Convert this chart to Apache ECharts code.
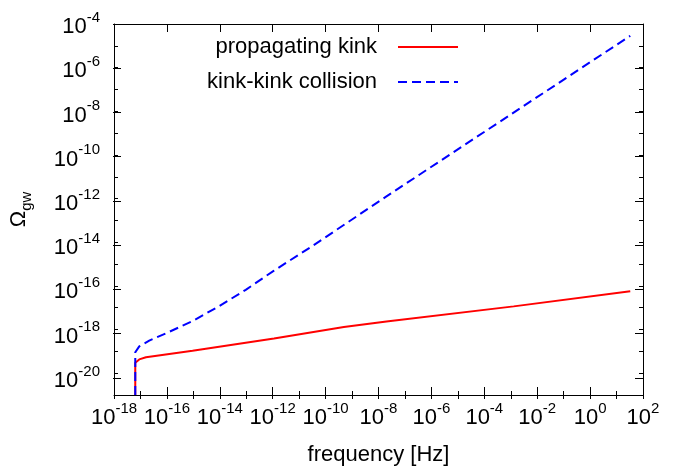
<!DOCTYPE html>
<html>
<head>
<meta charset="utf-8">
<script src="https://cdn.jsdelivr.net/npm/echarts@6/dist/echarts.min.js"></script>
<style>
html,body{margin:0;padding:0;background:#fff;}
#c{width:673px;height:471px;}
</style>
</head>
<body>
<div id="c"></div>
<script>
// Data (frequency in Hz, Omega_gw)
const kinkFreq  = [6.37e-18, 6.37e-18, 9.02e-18, 1.62e-17, 9.33e-16, 1.12e-12, 4.90e-10, 2.00e-8, 1.29e-3, 33];
const kinkOmega = [1e-21, 3.02e-20, 4.27e-20, 5.37e-20, 1.07e-19, 3.89e-19, 1.30e-18, 2.34e-18, 1.15e-17, 5.62e-17];
const collFreq  = [6.37e-18, 6.37e-18, 9.02e-18, 2.15e-17, 1.22e-16, 9.33e-16, 9.33e-15, 9.55e-14, 1.12e-12, 2.69e-11, 2.00e-8, 7.24e-3, 33];
const collOmega = [1e-21, 9.12e-20, 1.70e-19, 3.09e-19, 7.82e-19, 2.45e-18, 1.17e-17, 6.61e-17, 5.01e-16, 5.89e-15, 1.26e-12, 3.47e-8, 2.88e-5];
const seriesNames = ['propagating kink', 'kink-kink collision'];
const xTickExps = [-18, -16, -14, -12, -10, -8, -6, -4, -2, 0, 2];
const yTickExps = [-20, -18, -16, -14, -12, -10, -8, -6, -4];

const FONT = 'Liberation Sans, Arial, sans-serif';
const chart = echarts.init(document.getElementById('c'), null, {renderer: 'canvas'});

function expLabel(v) {
  const e = Math.round(Math.log10(v));
  return '{b|10}{s|' + e + '}';
}
const labelRich = {
  b: {fontSize: 22, fontFamily: FONT, color: '#000', lineHeight: 28, verticalAlign: 'bottom'},
  s: {fontSize: 15, fontFamily: FONT, color: '#000', lineHeight: 14, verticalAlign: 'top'}
};
const axLine = {show: true, onZero: false, lineStyle: {color: '#000', width: 1}};
function tick(len) { return {show: true, inside: true, length: len, lineStyle: {color: '#000', width: 1}}; }

const xMin = Math.pow(10, xTickExps[0]), xMax = Math.pow(10, xTickExps[xTickExps.length - 1]);
const yMinAll = 1e-21, yMaxAll = Math.pow(10, yTickExps[yTickExps.length - 1]);
const yMinMajor = Math.pow(10, yTickExps[0]);

const grid0 = {left: 113, right: 30, top: 24, bottom: 71};
const decade = (471 - 24 - 71) / 17;
const grid1 = {left: 113, right: 30, top: 24, bottom: 71 + decade};

const option = {
  animation: false,
  backgroundColor: '#fff',
  textStyle: {fontFamily: FONT},
  grid: [grid0, grid1],
  legend: {
    orient: 'vertical',
    align: 'right',
    right: 214,
    top: 36,
    padding: 0,
    itemWidth: 60,
    itemHeight: 14,
    itemGap: 13,
    itemStyle: {opacity: 0},
    textStyle: {fontSize: 22, fontFamily: FONT, color: '#000', lineHeight: 22, padding: [0, 16, 0, 0]},
    data: seriesNames
  },
  xAxis: [
    {gridIndex: 0, type: 'log', logBase: 10, position: 'bottom', min: xMin, max: xMax, interval: 2,
     axisLine: axLine, axisTick: tick(8), splitLine: {show: false},
     axisLabel: {formatter: expLabel, rich: labelRich, margin: 6, showMinLabel: true, showMaxLabel: true},
     name: 'frequency [Hz]', nameLocation: 'middle', nameGap: 49,
     nameTextStyle: {fontSize: 22, fontFamily: FONT, color: '#000'}},
    {gridIndex: 0, type: 'log', logBase: 10, position: 'bottom', min: xMin, max: xMax, interval: 1,
     axisLine: {show: false}, axisTick: tick(4), axisLabel: {show: false}, splitLine: {show: false}},
    {gridIndex: 0, type: 'log', logBase: 10, position: 'top', min: xMin, max: xMax, interval: 2,
     axisLine: axLine, axisTick: tick(8), axisLabel: {show: false}, splitLine: {show: false}},
    {gridIndex: 0, type: 'log', logBase: 10, position: 'top', min: xMin, max: xMax, interval: 1,
     axisLine: {show: false}, axisTick: tick(4), axisLabel: {show: false}, splitLine: {show: false}},
    {gridIndex: 1, type: 'log', logBase: 10, min: xMin, max: xMax, show: false}
  ],
  yAxis: [
    {gridIndex: 0, type: 'log', logBase: 10, position: 'left', min: yMinAll, max: yMaxAll, interval: 1,
     axisLine: axLine, axisTick: tick(4), axisLabel: {show: false}, splitLine: {show: false},
     name: '{o|Ω}{g|gw}', nameLocation: 'middle', nameRotate: 90, nameGap: 80,
     nameTextStyle: {rich: {
       o: {fontSize: 22, fontFamily: FONT, color: '#000', lineHeight: 26, verticalAlign: 'top'},
       g: {fontSize: 15, fontFamily: FONT, color: '#000', lineHeight: 14, verticalAlign: 'bottom'}
     }}},
    {gridIndex: 0, type: 'log', logBase: 10, position: 'right', min: yMinAll, max: yMaxAll, interval: 1,
     axisLine: axLine, axisTick: tick(4), axisLabel: {show: false}, splitLine: {show: false}},
    {gridIndex: 1, type: 'log', logBase: 10, position: 'left', min: yMinMajor, max: yMaxAll, interval: 2,
     axisLine: {show: false}, axisTick: tick(8), splitLine: {show: false},
     axisLabel: {formatter: expLabel, rich: labelRich, margin: 13, showMinLabel: true, showMaxLabel: true}},
    {gridIndex: 1, type: 'log', logBase: 10, position: 'right', min: yMinMajor, max: yMaxAll, interval: 2,
     axisLine: {show: false}, axisTick: tick(8), axisLabel: {show: false}, splitLine: {show: false}}
  ],
  series: [
    {name: seriesNames[0], type: 'line', xAxisIndex: 0, yAxisIndex: 0, symbol: 'none', clip: true,
     lineStyle: {color: '#ff0000', width: 2}, itemStyle: {color: '#ff0000'},
     data: kinkFreq.map((f, i) => [f, kinkOmega[i]])},
    {name: seriesNames[1], type: 'line', xAxisIndex: 0, yAxisIndex: 0, symbol: 'none', clip: true,
     lineStyle: {color: '#0000ff', width: 2, type: [9, 5]}, itemStyle: {color: '#0000ff'},
     data: collFreq.map((f, i) => [f, collOmega[i]])}
  ]
};
chart.setOption(option);
</script>
</body>
</html>
